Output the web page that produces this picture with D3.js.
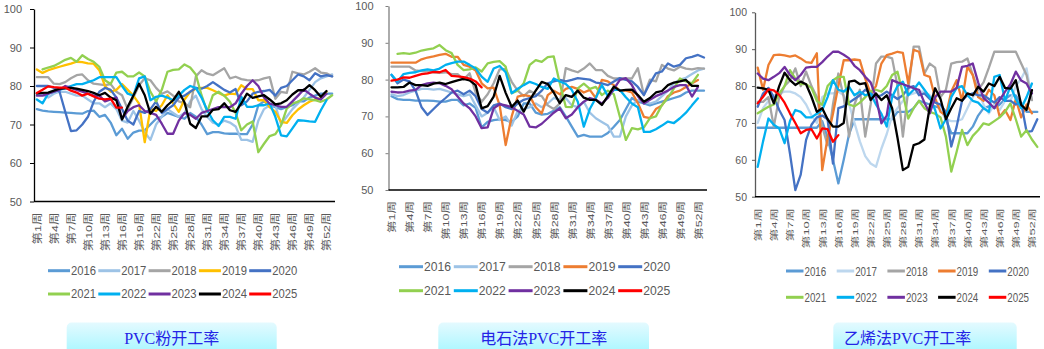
<!DOCTYPE html>
<html><head><meta charset="utf-8">
<script src="https://cdn.jsdelivr.net/npm/d3@7"></script>
<style>html,body{margin:0;padding:0;background:#fff;}svg{display:block}</style>
</head><body>
<svg id="chart" width="1044" height="349"></svg>
<script>
// ---------- categories & ticks ----------
const weeks = ["第1周","第2周","第3周","第4周","第5周","第6周","第7周","第8周","第9周","第10周",
"第11周","第12周","第13周","第14周","第15周","第16周","第17周","第18周","第19周","第20周",
"第21周","第22周","第23周","第24周","第25周","第26周","第27周","第28周","第29周","第30周",
"第31周","第32周","第33周","第34周","第35周","第36周","第37周","第38周","第39周","第40周",
"第41周","第42周","第43周","第44周","第45周","第46周","第47周","第48周","第49周","第50周",
"第51周","第52周","第53周"];
const tickWeeks = ["第1周","第4周","第7周","第10周","第13周","第16周","第19周","第22周","第25周","第28周","第31周","第34周","第37周","第40周","第43周","第46周","第49周","第52周"];
const yTicks = [50,60,70,80,90,100];
const years = ["2016","2017","2018","2019","2020","2021","2022","2023","2024","2025"];
const titles = ["PVC粉开工率","电石法PVC开工率","乙烯法PVC开工率"];

// ---------- PVC粉开工率 ----------
const powder2016 = [74,73.6,73.4,73.3,73.2,73.1,73,72.9,72.8,73.5,73.6,72,72.5,70.5,67.2,68.9,66.3,67.9,68.4,68.5,70,71.5,72,73,72.5,72,71.5,73,72,70,67.5,68,68,67.7,67.6,67.6,67.5,67.5,70,75,76,75,74.5,74,74.5,75,76,76,77,77.5,78,78,78];
const powder2017 = [78,77.8,77,78,78.5,78.5,78,77.5,77.5,76.5,75.5,75.5,74.5,75.5,74,71,70.5,73.5,71,68,66,70,72,74,73,72,73,76,77.5,74,72,70.5,70,71,70.5,69.5,66,66,65.5,71,74,75,75,70,72,74,75.5,77,79,81,82,82.5,83];
const powder2018 = [82.3,82.3,82.3,80.6,80.5,81,82,82.8,83,81.5,80.6,80.4,80.2,80.5,78.5,77.6,74,77,80.2,82,81.5,79.5,78,78.6,77.5,76,75.5,74.5,82.5,84.1,83.2,82.8,83.7,84.6,82,82.4,81.8,81.5,81.4,81.5,82,82.3,76.7,78.5,78.2,83.7,83.3,83,83.7,84.6,83.5,83.3,82.5];
const powder2019 = [84.3,83.4,84.1,84.6,85,85.4,85.8,86.3,86.2,85.9,85.8,84.1,80,78.5,79,80.5,79,77.5,75.4,65.4,74.1,73.5,75,77.6,75.5,73.3,76.5,78.5,79.3,79.5,79.5,78.9,78.2,77.5,78,77.9,80.2,79.2,79.2,76.3,76.3,74.5,73.3,70.7,70.4,72.4,73.9,75,75.9,76.5,76.8,78.5];
const powder2020 = [80,80,80,79.5,78.5,73.3,68.3,68.5,70,72,75.9,78.5,79.5,79,77,74,71,70,73.5,73,74,76,73,74,75,77,77.5,78.5,79.5,79.3,80,81,80,79,78.3,79.2,75,76,78,78.5,78.7,79,77.5,79.5,80,81.5,83,82.5,81.5,83.3,82.5,82.8,82.5];
const powder2021 = [null,84.3,84.8,85.2,86,86.8,87.3,86.3,88,87,86.3,85,81.5,80.5,83.5,83.7,82.5,82.5,83.5,82.5,78.5,76,79,83.7,84.2,84.3,85.6,84.8,83,77.6,73.3,77.6,78.5,77.5,75.9,73,68.5,70,70.8,62.8,65,67,67.5,69.8,74.1,75.5,75.9,76.8,76.5,76.3,75.9,76.5,77.6];
const powder2022 = [76.5,75.5,78,78.5,79,79.5,80,80.5,80.5,81,81.5,82.3,82.3,82.3,82.3,80,78,77.5,82,82.5,76.3,77.2,77.5,77,76.3,77.5,79,80,79.5,77,73.7,71.1,69.6,72,72,71.5,77.2,74.6,74.6,75,75,75.5,72,67.2,66.9,69,71.1,71,70.8,70.7,73.7,76.3];
const powder2023 = [77.5,77.5,78,78.5,79,80,79.5,79,78.5,78,77.5,77.5,76,76.5,77,71.5,73.5,74.5,75,73.5,73,72.5,70.2,67.6,67.6,71,73,72.5,71.5,73,73.5,74,74.5,74.5,74.5,75.5,78,80,81.5,80,77,75.4,75,74.6,74.6,76,77.5,79.1,78,77,76.5,78];
const powder2024 = [78.1,78.2,78.3,78.8,79.3,79.4,79.5,79.3,79,78.7,78.2,77.6,78.2,77,76.3,71.3,74.6,77.5,80.6,77.6,72.8,74.6,73.3,75,76.3,78.5,75.7,70.2,69.1,72.1,72.1,73.8,74,75.5,73.7,73.3,75.5,78,76.9,77.3,77.6,76.5,75.2,75.5,76.3,77.8,78.9,78.9,80.2,78.9,77.2,78.7];
const powder2025 = [78.2,79,79.9,79.7,79.6,79.6,78.8,78.3,77.5,78,77.3,76.7,76.5,76.7,74.4,74.4];

// ---------- 电石法PVC开工率 ----------
const carbide2016 = [75.5,74.7,74.5,74.5,74.3,74.3,74.3,74.2,74,74,74.5,74.5,73,73.5,72.3,67,68.5,69,69.2,69,68.5,70,73.5,73.5,71,70.5,70.7,71.5,72.5,70,67.2,64.5,65,64.5,64.5,64.5,65.5,67.2,69,72,75,74,73.5,73,73.5,74,74.5,75,75.5,76.5,77,77,77];
const carbide2017 = [76,75.5,75.8,76.5,77,77.5,77.5,77.3,77.5,77,76.5,76,75.5,76,73,70,71,72.5,69,70,67.5,71.5,72,72.5,73.5,72.5,73.5,75,74.5,75,73,72.5,74,71,69.5,68.5,67.5,64.5,64.5,70,73,74.5,74,73.5,74,75.5,77,79,80,80.5,81.5,82.5,83];
const carbide2018 = [83.5,83.5,83.5,83.5,82.5,82.3,82.2,82,81.8,82,81.5,81.5,80,81.7,76.5,74,76,79,82.8,82.9,79.4,77,75.5,77,76,75.5,73,72,73.5,83.1,82.5,82,83,84.4,82.6,82.6,81,80.3,80.3,80.3,80.3,83.1,75.8,80,79.5,84,83,82.5,83.5,83,82.8,83.1,83];
const carbide2019 = [84.6,84.6,84.6,84.6,84.6,85.5,86,86.3,86.7,87,86.2,86.2,84,83.5,82.5,79,77.6,77.8,73,62.2,70,75.4,75.8,75.5,72.5,70.8,75.8,77,76,77.5,78,77.5,76.5,77.2,75,79.9,79.5,78.5,77,77,76.5,73.6,69.9,69.5,72,73,75.5,76.5,77,78,79,79.9];
const carbide2020 = [81.3,79,80,79.5,77,72.5,70.4,72,73.6,75,76.5,77,76,77,75.5,72,71,73,73.5,72.5,72,73.5,74.5,75,75.5,77,79,79.5,79.9,79.5,79.9,80.4,80.2,80,79.2,79,78.5,79.5,80.4,79.9,79.5,78,75.8,79,81.7,82.2,84.4,83.5,84,85.8,86.2,86.7,86];
const carbide2021 = [null,87,87.2,87,87.3,87.9,88.2,88.5,89.4,88,87.2,84,82.6,82.8,83.3,82.2,84.4,84.8,85,83.5,76.3,77,79,84,85.3,84.8,86.1,86.3,79,72.6,72.5,77.6,78.9,77.5,78,75.8,77,76,69.9,63.6,66.8,66.5,67,69.5,70,73.1,75,77.6,80.3,79.5,79,81.3];
const carbide2022 = [81.3,79.5,81.5,81.8,82,82.5,82.8,82.5,83,84,84.5,84.9,84.9,84,83,80.8,79.4,83,83.7,82,76.3,77.5,78.5,79.4,78.8,78,77.5,80.3,79.5,78.8,77.2,74,67.2,72,75,78.5,75.5,77.2,77.2,75.2,73.5,72.5,65.8,65.8,66.5,67.5,68.6,68.2,69.5,71,73,74.9];
const carbide2023 = [76.7,76.5,76.6,77,77.2,78.5,79,79.2,79,78.3,77.4,75.4,73.5,72.2,70,66.8,67,72.2,73.3,73,72.5,71.5,70.5,67.2,67,68,69.5,71,72.2,69.5,70.5,72.5,74,75,74.5,73.5,75,77.5,79.9,80.4,78.5,75.5,73.5,74.5,75.5,76.2,77,78,78.5,78.5,75.4,78];
const carbide2024 = [77.9,77.9,78,79.2,78.5,78.5,78.3,78.9,79.2,78.8,79.3,79.8,80.2,79.8,78.5,72.2,72.8,75.4,81,76.4,72.6,74.3,71.3,74.5,77,79.4,78.8,76.5,73.6,75.8,75.3,77,75.1,74.5,74.5,73.1,75.5,78.1,77,77.2,77.3,75.8,74,75,76.5,76.9,78.5,79.2,79.5,79.9,78.3,78.3];
const carbide2025 = [79.7,80,80.6,80.5,81,81.5,81.7,82.1,82,82.6,81,80.9,80.7,80.3,79.5,77.9];

// ---------- 乙烯法PVC开工率 ----------
const ethylene2016 = [68.7,68.7,68.7,68.7,68.7,68.7,68.7,68.7,68.7,68.7,68.7,68.7,70.5,66,60,53.6,60,67,71,71,71,71,71,71,71,71,73,73,73,74,76,75.5,75,74.5,74,71,67.2,67.2,67.2,67.2,69,72,74,74.5,74,75,76.5,77.5,77.5,75,73,73,73];
const ethylene2017 = [70,74,76,77.5,78,78.5,78.5,78,77,75,72,70,77,78,78,78.5,77.5,75,70,65,61,59,58.1,63,67,72,74,76,77.5,78,78.5,78.5,77.5,76,74,71,70.5,70.5,71,74,77,79,75,72.6,75,73.5,76,76,80,82,84.8,76.2];
const ethylene2018 = [75.7,75.7,77,69,77,80,81.5,84.8,80,83.9,80,77,69,64,75,83.4,77,66.3,75,79,66.3,75,86.1,88,88,87.5,80,66.3,79,90.7,90.7,83.4,86.1,85,77,79,86.1,86.5,86.6,87.5,83,79,81,85,89.3,89.3,89.3,89.3,89.3,86.1,83,76.2];
const ethylene2019 = [85,79,85.7,88.4,88.5,88.3,88,88.3,87.5,86.5,86.3,88.9,57.2,66,72.5,80,87,87,87.2,87,82,78,80,86.1,88.4,88.8,89.3,89,80.7,89.8,89.3,83,82.5,76.7,73,72,78.5,81.6,76,85.2,83,77,76,79,77.5,71.7,73.5,70.8,76.5,71.5,75,72.6];
const ethylene2020 = [74.4,78,79.5,77,73.5,70.8,61.7,51.8,56,65.4,69.5,71.5,72,71,59,74,74.5,75.5,76.5,77.5,79,78,77,77.5,78.5,77.5,76.5,77.5,79.5,80,77.5,78,76.5,75.5,75,73,63.6,69,76,77.5,78,77.5,77.5,76.5,75.5,77,76,76,75,75.5,67.6,67.8,71];
const ethylene2021 = [72.6,73.5,74.4,75,78,80,84.3,82,80.5,80.5,79.5,76,74.9,80,81.6,82.5,82.5,75,74.5,75.5,77,78.5,79,78.5,80,83,83.9,78,71.2,74,76,74,73,72.5,71.5,66.3,56.8,62.2,68.1,64,66.5,68,69.9,69.5,70.5,71.5,73,75.3,71,66.3,68,65.5,63.5];
const ethylene2022 = [58.1,65,71.2,69.5,68.5,64.5,70.5,73.5,73,71.5,71.5,72.5,73.5,77,81.6,79,78.5,79.8,77.5,78.5,77.5,78,75,72.5,69,77,80,81.2,77.5,79,81,79,77,73.5,68.5,71,77,79.5,80,77.5,76,75.5,74,73,82.5,83,76,80,76.5,74,77,80.7];
const ethylene2023 = [83.4,82,81.6,82.5,83.5,85.2,83,81.6,83,85,85.2,85.2,86.5,88,89.3,89.3,88.5,87.5,85.5,84.3,82.5,81,77.1,69.9,72,81.6,81,80.5,80,79.4,79,75.5,72.6,77,78.5,78.5,78.5,79.5,85.2,85.5,86.1,81,76.7,75.5,74,76.2,78.5,80.5,83.9,81.5,80.7,78];
const ethylene2024 = [79.6,79.4,79,75.3,80,83.6,81.6,80.3,81.2,80.5,77.1,73,74,71,69,69,70,81.2,81.5,80.5,80.8,76.2,78,76.2,77.5,74,66,57.2,58.1,64,64.5,65.5,74.4,79.4,76.5,71,74,76.7,76,78,77.5,79.8,78.5,80.7,80,82.5,79.5,79.3,81.6,74.9,73.5,78.9];
const ethylene2025 = [75.3,77.1,79.1,78.8,77.6,75.5,72.6,70,67.2,68.1,68.3,65.8,68.5,68.3,64.9,66.7];

// ---------- colours (style) ----------
const coloursPowder   = ["#5B9BD5","#9DC3E6","#A5A5A5","#FFC000","#4472C4","#92D050","#00B0F0","#7030A0","#000000","#FF0000"];
const coloursCarbide  = ["#5B9BD5","#9DC3E6","#A5A5A5","#ED7D31","#4472C4","#92D050","#00B0F0","#7030A0","#000000","#FF0000"];
const coloursEthylene = ["#5B9BD5","#BDD7EE","#A5A5A5","#ED7D31","#4472C4","#92D050","#00B0F0","#7030A0","#000000","#FF0000"];

const panels = [
  {title: titles[0], colours: coloursPowder,
   series: [powder2016,powder2017,powder2018,powder2019,powder2020,powder2021,powder2022,powder2023,powder2024,powder2025],
   x0: 34, x1: 335, yTop: 9, yBot: 201.5, yAxisColor: "#000", tickFont: 11, tickPad: 8, tickLen: 4,
   xLabFont: 12.5, xLabScale: 0.78, xLabGap: 11,
   legX: 48, legStep: 50.3, legLine: 22, legRows: [270.7, 294], legFont: 12, legTextW: 25,
   box: [66.7, 322.5, 210, 34], titleX: 171.7, titleAnchor: "middle"},
  {title: titles[1], colours: coloursCarbide,
   series: [carbide2016,carbide2017,carbide2018,carbide2019,carbide2020,carbide2021,carbide2022,carbide2023,carbide2024,carbide2025],
   x0: 388.5, x1: 707, yTop: 6, yBot: 190, yAxisColor: "#7f7f7f", tickFont: 11, tickPad: 12, tickLen: 3,
   xLabFont: 12.5, xLabScale: 0.75, xLabGap: 11,
   legX: 399, legStep: 54.8, legLine: 24, legRows: [266.7, 290.7], legFont: 13, legTextW: 27,
   box: [438.3, 322.5, 210.7, 34], titleX: 543.7, titleAnchor: "middle"},
  {title: titles[2], colours: coloursEthylene,
   series: [ethylene2016,ethylene2017,ethylene2018,ethylene2019,ethylene2020,ethylene2021,ethylene2022,ethylene2023,ethylene2024,ethylene2025],
   x0: 755, x1: 1040, yTop: 12.3, yBot: 196.7, yAxisColor: "#595959", tickFont: 10.5, tickPad: 5, tickLen: 3,
   xLabFont: 13, xLabScale: 0.62, xLabGap: 11.5,
   legX: 786, legStep: 50.7, legLine: 17.5, legRows: [271, 297.3], legFont: 13, legTextW: 21.7,
   box: [833.3, 322.5, 183.4, 34], titleX: 844, titleAnchor: "start"}
];

const svg = d3.select("#chart");
const defs = svg.append("defs");
const grad = defs.append("linearGradient").attr("id","titleGrad").attr("x1",0).attr("y1",0).attr("x2",0).attr("y2",1);
grad.append("stop").attr("offset","0%").attr("stop-color","#E4FAFF");
grad.append("stop").attr("offset","100%").attr("stop-color","#A2F6FF");

const labelColor = "#595959";
const numFont = "'Liberation Sans', Arial, sans-serif";
const cjkFont = "'Liberation Sans','Noto Sans CJK SC', sans-serif";

panels.forEach(p => {
  const g = svg.append("g");
  const x = d3.scalePoint().domain(weeks).range([p.x0, p.x1]).padding(0.5);
  const y = d3.scaleLinear().domain([50,100]).range([p.yBot, p.yTop]);

  // y axis
  const ya = g.append("g").attr("transform", `translate(${p.x0},0)`)
    .call(d3.axisLeft(y).tickValues(yTicks).tickSize(p.tickLen).tickSizeOuter(0).tickPadding(p.tickPad));
  ya.select(".domain").attr("stroke", p.yAxisColor).attr("stroke-width", 1.3);
  ya.selectAll(".tick line").attr("stroke", p.yAxisColor);
  ya.selectAll("text").attr("fill", labelColor).attr("font-size", p.tickFont).attr("font-family", numFont);

  // x axis
  const xa = g.append("g").attr("transform", `translate(0,${p.yBot})`)
    .call(d3.axisBottom(x).tickValues(tickWeeks).tickSize(0).tickSizeOuter(0));
  xa.select(".domain").attr("stroke", "#000").attr("stroke-width", 1.5)
    .attr("d", `M${p.x0},0H${p.x1}`);
  xa.selectAll("text")
    .attr("transform", `rotate(-90) scale(1,${p.xLabScale})`)
    .attr("x", -p.xLabGap).attr("y", 0).attr("dy", "0.35em")
    .attr("text-anchor", "end")
    .attr("fill", labelColor).attr("font-size", p.xLabFont).attr("font-family", cjkFont);

  // lines
  const line = d3.line()
    .defined(d => d.v !== null && d.v !== undefined)
    .x(d => x(d.w)).y(d => y(d.v));
  p.series.forEach((vals, i) => {
    const pts = vals.map((v, k) => ({w: weeks[k], v: v}));
    g.append("path").datum(pts)
      .attr("fill", "none").attr("stroke", p.colours[i])
      .attr("stroke-width", 2.3).attr("stroke-linejoin", "round").attr("stroke-linecap", "round")
      .attr("d", line);
  });

  // legend
  years.forEach((yr, i) => {
    const row = Math.floor(i / 5), col = i % 5;
    const lx = p.legX + col * p.legStep, ly = p.legRows[row];
    g.append("line").attr("x1", lx).attr("x2", lx + p.legLine).attr("y1", ly).attr("y2", ly)
      .attr("stroke", p.colours[i]).attr("stroke-width", 3);
    g.append("text").attr("x", lx + p.legLine + 1).attr("y", ly).attr("dy", "0.36em")
      .attr("font-size", p.legFont).attr("font-family", numFont).attr("fill", labelColor)
      .attr("textLength", p.legTextW).attr("lengthAdjust", "spacingAndGlyphs")
      .text(yr);
  });

  // title box
  g.append("rect").attr("x", p.box[0]).attr("y", p.box[1]).attr("width", p.box[2]).attr("height", p.box[3])
    .attr("rx", 5).attr("fill", "url(#titleGrad)");
  g.append("text").attr("x", p.titleX).attr("y", 344).attr("text-anchor", p.titleAnchor)
    .attr("font-size", 16).attr("font-family", "'Liberation Serif','Noto Sans CJK SC', serif")
    .attr("fill", "#2424E6").text(p.title);
});
</script>
</body></html>
